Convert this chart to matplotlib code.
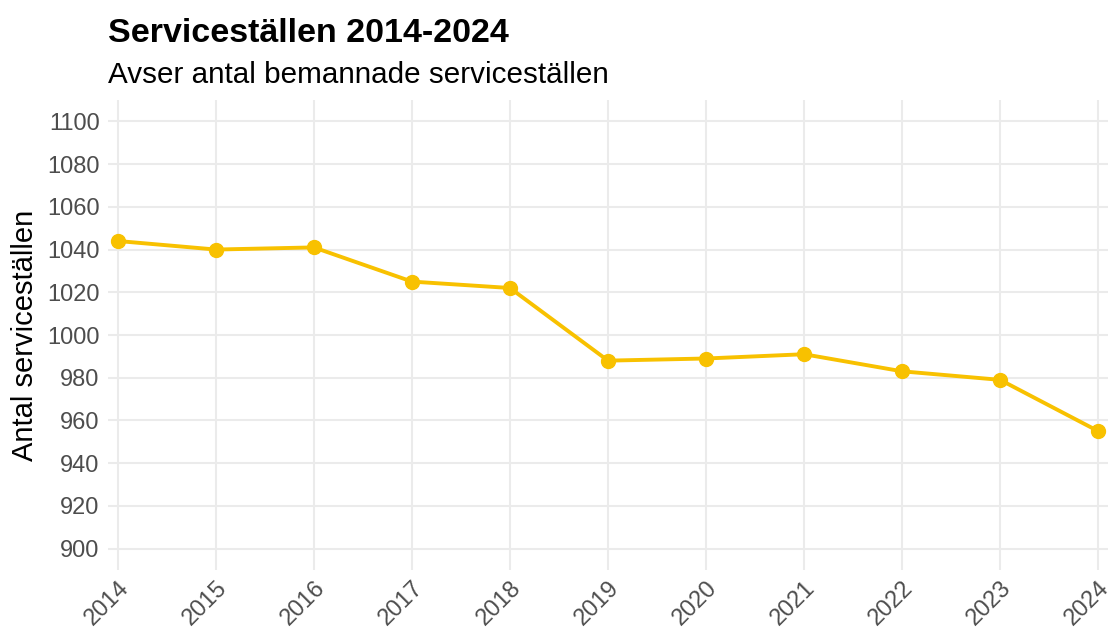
import matplotlib
matplotlib.use("Agg")
import matplotlib.pyplot as plt

years = [2014, 2015, 2016, 2017, 2018, 2019, 2020, 2021, 2022, 2023, 2024]
values = [1044, 1040, 1041, 1025, 1022, 988, 989, 991, 983, 979, 955]
yticks = [900, 920, 940, 960, 980, 1000, 1020, 1040, 1060, 1080, 1100]

plt.rcParams['font.family'] = ['Liberation Sans', 'DejaVu Sans']

fig = plt.figure(figsize=(11.08, 6.28), dpi=100)
ax = fig.add_axes([108/1108, 1 - 570/628, 1000/1108, 470/628])

color = '#F8C100'
ax.plot(years, values, color=color, lw=2.8, marker='o', markersize=10, zorder=3, clip_on=False)

ax.set_xlim(2013.9, 2024.1)
ax.set_ylim(890, 1110)
ax.set_xticks(years)
ax.set_xticklabels([str(y) for y in years], rotation=45, ha='right', rotation_mode='anchor')
ax.set_yticks(yticks)
ax.grid(True, color='#ebebeb', lw=1.5)
ax.set_axisbelow(True)
for s in ax.spines.values():
    s.set_visible(False)
ax.tick_params(length=0, labelsize=17, labelcolor='#4d4d4d')
ax.tick_params(axis='y', pad=6)
ax.tick_params(axis='x', pad=5)
ax.set_ylabel('Antal serviceställen', fontsize=21, color='black', labelpad=6)

fig.text(108/1108, 1 - 42/628, 'Serviceställen 2014-2024', fontsize=24.5, fontweight='bold', ha='left', va='baseline')
fig.text(108/1108, 1 - 83/628, 'Avser antal bemannade serviceställen', fontsize=21.3, ha='left', va='baseline')

fig.savefig('out.png', dpi=100, facecolor='white')
